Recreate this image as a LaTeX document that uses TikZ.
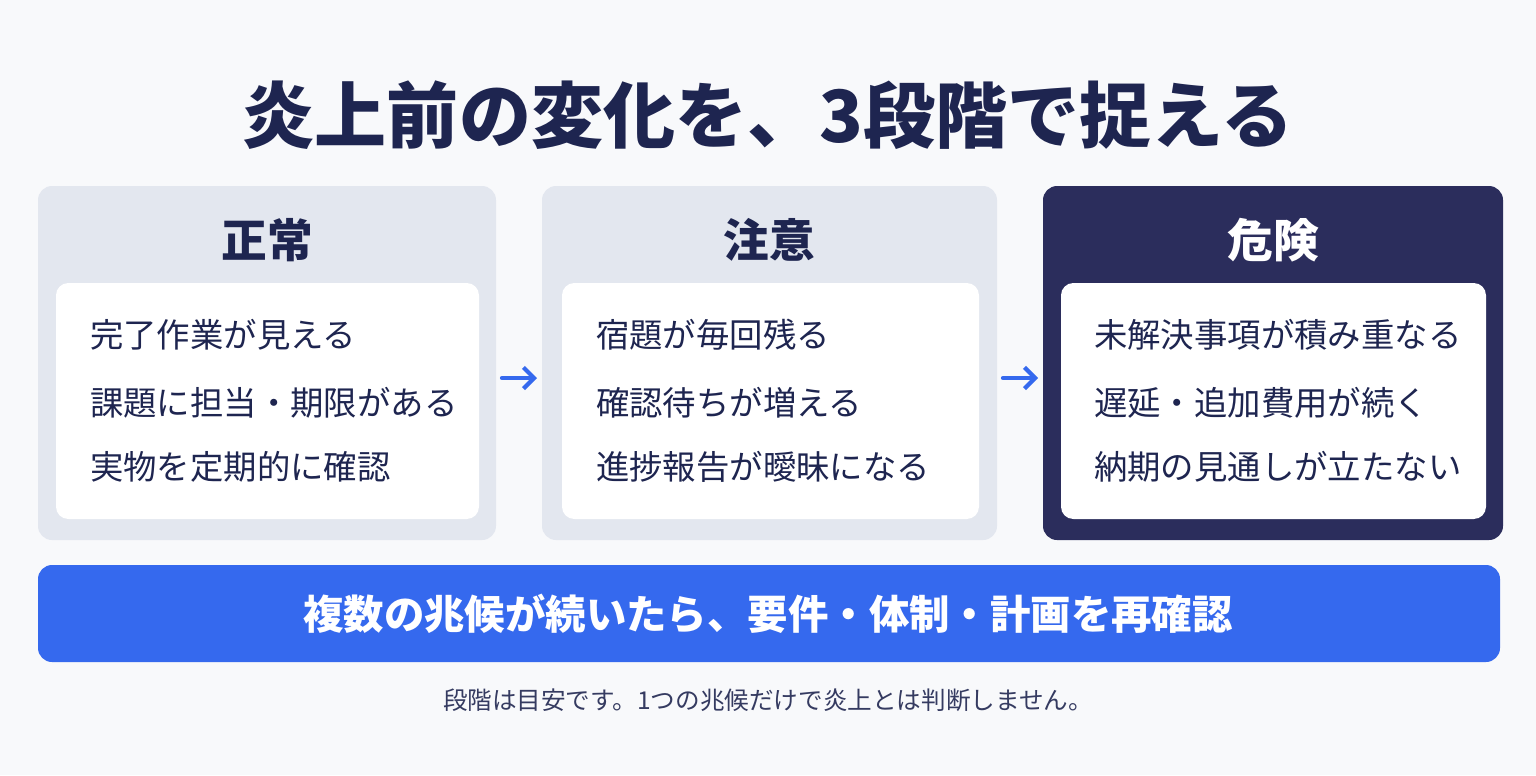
\documentclass[tikz,border=0pt]{standalone}
\usepackage{fontspec}
\setmainfont{Noto Sans CJK JP}
\usetikzlibrary{positioning,arrows.meta}
\definecolor{navy}{HTML}{1E2550}
\definecolor{panel}{HTML}{E3E7EF}
\definecolor{darkpanel}{HTML}{2B2D5C}
\definecolor{accent}{HTML}{3569EE}
\definecolor{bgc}{HTML}{F8F9FB}
\tikzset{
  stage/.style={fill=panel, rounded corners=8pt},
  inner/.style={fill=white, rounded corners=7pt},
  head/.style={font=\fontsize{26}{30}\selectfont\bfseries, text=navy},
  item/.style={font=\fontsize{19}{23}\selectfont, text=navy, anchor=west},
  flow/.style={-{Straight Barb[length=6pt,width=12pt]}, line width=2.4pt, accent, line cap=round}
}
\begin{document}
\begin{tikzpicture}[x=0.02cm, y=-0.02cm]
\fill[bgc] (0,0) rectangle (1536,775);
\useasboundingbox (0,0) rectangle (1536,775);

% Title
\node (title) at (768,115) [font=\fontsize{41}{48}\selectfont\bfseries, text=navy] {炎上前の変化を、3段階で捉える};

% Stage panels
\fill[stage] (38,186) rectangle (496,540);
\fill[stage] (542,186) rectangle (997,540);
\fill[stage, fill=darkpanel] (1043,186) rectangle (1503,540);
\fill[inner] (56,283) rectangle (479,519);
\fill[inner] (562,283) rectangle (979,519);
\fill[inner] (1061,283) rectangle (1486,519);

% Headings
\node (normal) at (267,240) [head] {正常};
\node (caution) at (769,240) [head] {注意};
\node (danger) at (1273,240) [head, text=white] {危険};

% Column 1
\node (n1) at (84,335) [item] {完了作業が見える};
\node (n2) at (84,403) [item] {課題に担当・期限がある};
\node (n3) at (84,467) [item] {実物を定期的に確認};

% Column 2
\node (c1) at (590,335) [item] {宿題が毎回残る};
\node (c2) at (590,403) [item] {確認待ちが増える};
\node (c3) at (590,467) [item] {進捗報告が曖昧になる};

% Column 3
\node (d1) at (1088,335) [item] {未解決事項が積み重なる};
\node (d2) at (1088,403) [item] {遅延・追加費用が続く};
\node (d3) at (1088,467) [item] {納期の見通しが立たない};

% Arrows
\coordinate (a1) at (502,378);
\coordinate (b1) at (537,378);
\coordinate (a2) at (1003,378);
\coordinate (b2) at (1038,378);
\draw[flow] (a1) -- (b1);
\draw[flow] (a2) -- (b2);

% Banner
\fill[accent, rounded corners=8pt] (38,565) rectangle (1500,662);
\node (banner) at (768,614) [font=\fontsize{23}{27}\selectfont\bfseries, text=white] {複数の兆候が続いたら、要件・体制・計画を再確認};

% Note
\node (note) at (768,700) [font=\fontsize{14}{17}\selectfont, text=navy!90] {段階は目安です。1つの兆候だけで炎上とは判断しません。};

\end{tikzpicture}
\end{document}
